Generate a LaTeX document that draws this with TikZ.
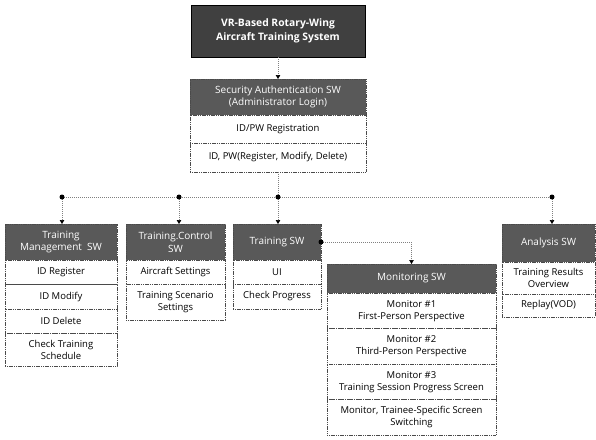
\documentclass[tikz,border=0pt]{standalone}
\usepackage{fontspec}
\setmainfont{Open Sans}
\usetikzlibrary{arrows.meta}
\definecolor{hdrgray}{HTML}{595959}
\definecolor{topgray}{HTML}{404040}
\definecolor{edgegray}{HTML}{4A4A4A}
\begin{document}
\begin{tikzpicture}[x=1pt,y=-1pt,
  box/.style={rectangle, inner sep=1pt, outer sep=0pt, anchor=north west, draw=edgegray, line width=0.5pt, dash pattern=on 1.2pt off 0.6pt, align=center},
  hdr/.style={box, fill=hdrgray, text=white, font=\fontsize{10}{12.8}\selectfont},
  row/.style={box, fill=white, text=black, font=\fontsize{9.5}{12.2}\selectfont},
  conn/.style={draw=gray, line width=0.6pt, dash pattern=on 1pt off 1pt},
  arr/.style={conn, -{Triangle[length=4pt,width=4.5pt,color=black]}},
  jdot/.style={circle, fill=black, inner sep=0pt, minimum size=5pt}
]
\useasboundingbox (0,0) rectangle (596,439);
% top
\node[box, fill=topgray, text=white, draw=black, solid, font=\fontsize{10.3}{14}\selectfont\bfseries, minimum width=174, minimum height=52] (top) at (191,5) {VR-Based Rotary-Wing\\Aircraft Training System};
% security
\node[hdr, minimum width=176, minimum height=36] (sech) at (190,79) {Security Authentication SW\\(Administrator Login)};
\node[row, minimum width=176, minimum height=28] (sec1) at (sech.south west) {ID/PW Registration};
\node[row, minimum width=176, minimum height=29] (sec2) at (sec1.south west) {ID, PW(Register, Modify, Delete)};
% training management
\node[hdr, minimum width=112, minimum height=36] (tmh) at (5,224) {Training\\Management\ \ SW};
\node[row, minimum width=112, minimum height=24.5] (tm1) at (tmh.south west) {ID Register};
\node[row, minimum width=112, minimum height=24.5] (tm2) at (tm1.south west) {ID Modify};
\node[row, minimum width=112, minimum height=24.5] (tm3) at (tm2.south west) {ID Delete};
\node[row, minimum width=112, minimum height=32.5] (tm4) at (tm3.south west) {Check Training\\Schedule};
% training control
\node[hdr, minimum width=99, minimum height=36] (tch) at (126,224) {Training.Control\\SW};
\node[row, minimum width=99, minimum height=24] (tc1) at (tch.south west) {Aircraft Settings};
\node[row, minimum width=99, minimum height=36] (tc2) at (tc1.south west) {Training Scenario\\Settings};
% training sw
\node[hdr, minimum width=88, minimum height=36] (tsh) at (233,224) {Training SW};
\node[row, minimum width=88, minimum height=24] (ts1) at (tsh.south west) {UI};
\node[row, minimum width=88, minimum height=25] (ts2) at (ts1.south west) {Check Progress};
% monitoring
\node[hdr, minimum width=169, minimum height=29] (msh) at (327,264) {Monitoring SW};
\node[row, minimum width=169, minimum height=35.5] (ms1) at (msh.south west) {Monitor \#1\\First-Person Perspective};
\node[row, minimum width=169, minimum height=35.5] (ms2) at (ms1.south west) {Monitor \#2\\Third-Person Perspective};
\node[row, minimum width=169, minimum height=35.5] (ms3) at (ms2.south west) {Monitor \#3\\Training Session Progress Screen};
\node[row, minimum width=169, minimum height=35.5] (ms4) at (ms3.south west) {Monitor, Trainee-Specific Screen\\Switching};
% analysis
\node[hdr, minimum width=93, minimum height=38] (ash) at (502,224) {Analysis SW};
\node[row, minimum width=93, minimum height=32] (as1) at (ash.south west) {Training Results\\Overview};
\node[row, minimum width=93, minimum height=23] (as2) at (as1.south west) {Replay(VOD)};
% connectors
\coordinate (hl) at (0,197);
\coordinate (c1) at (62,197);
\coordinate (c2) at (179,197);
\coordinate (c3) at (sec2.south |- hl);
\coordinate (c4) at (552,197);
\draw[arr] (top.south) -- (sech.north);
\draw[conn] (sec2.south) -- (c3);
\draw[conn] (c1) -- (c4);
\draw[arr] (c1) -- (c1 |- tmh.north);
\draw[arr] (c2) -- (c2 |- tch.north);
\draw[arr] (c3) -- (c3 |- tsh.north);
\draw[arr] (c4) -- (c4 |- ash.north);
\draw[arr] (tsh.east) -| (msh.north);
\node[jdot] (d1) at (c1) {};
\node[jdot] (d2) at (c2) {};
\node[jdot] (d3) at (c3) {};
\node[jdot] (d4) at (c4) {};
\node[jdot] (d5) at (tsh.east) {};
\end{tikzpicture}
\end{document}
